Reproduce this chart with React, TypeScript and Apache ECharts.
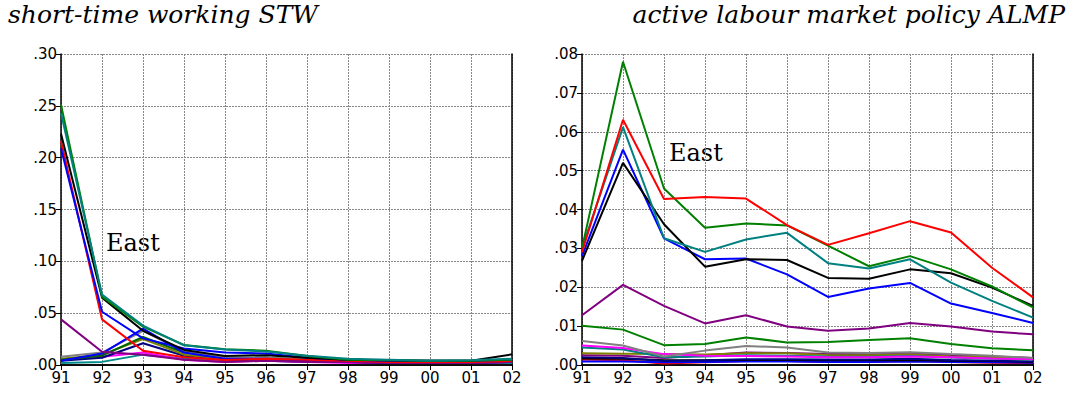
import React, { useEffect, useRef } from "react";
import * as echarts from "echarts";

const years = ["91", "92", "93", "94", "95", "96", "97", "98", "99", "00", "01", "02"];

// Left panel: short-time working (STW), East
const stwDarkTeal = [0.002, 0.003, 0.010, 0.006, 0.004, 0.004, 0.003, 0.003, 0.002, 0.002, 0.002, 0.002];
const stwMagenta = [0.005, 0.008, 0.012, 0.005, 0.003, 0.004, 0.003, 0.002, 0.002, 0.002, 0.002, 0.003];
const stwNavy = [0.004, 0.007, 0.021, 0.009, 0.005, 0.005, 0.004, 0.003, 0.002, 0.002, 0.002, 0.003];
const stwOlive = [0.006, 0.010, 0.025, 0.010, 0.006, 0.006, 0.004, 0.003, 0.003, 0.003, 0.003, 0.003];
const stwDarkGreen = [0.005, 0.009, 0.027, 0.012, 0.007, 0.007, 0.005, 0.003, 0.003, 0.003, 0.003, 0.004];
const stwGray = [0.008, 0.012, 0.033, 0.013, 0.007, 0.007, 0.005, 0.004, 0.003, 0.003, 0.003, 0.004];
const stwBlue2 = [0.004, 0.011, 0.035, 0.012, 0.006, 0.006, 0.004, 0.003, 0.003, 0.003, 0.003, 0.003];
const stwPurple = [0.044, 0.0128, 0.010, 0.005, 0.003, 0.004, 0.003, 0.003, 0.002, 0.002, 0.002, 0.003];
const stwRed = [0.216, 0.044, 0.0138, 0.0074, 0.0048, 0.006, 0.005, 0.004, 0.003, 0.003, 0.003, 0.004];
const stwBlue = [0.209, 0.0514, 0.0257, 0.016, 0.012, 0.011, 0.007, 0.005, 0.004, 0.004, 0.004, 0.005];
const stwBlack = [0.223, 0.065, 0.033, 0.0145, 0.0087, 0.0095, 0.007, 0.005, 0.0045, 0.004, 0.004, 0.0103];
const stwGreen = [0.251, 0.066, 0.037, 0.0193, 0.0151, 0.0138, 0.0087, 0.005, 0.0045, 0.004, 0.004, 0.005];
const stwTeal = [0.243, 0.068, 0.038, 0.019, 0.015, 0.013, 0.009, 0.006, 0.005, 0.004, 0.0045, 0.006];

// Right panel: active labour market policy (ALMP), East
const almpRed2 = [0.0014, 0.0012, 0.0004, 0.0007, 0.0010, 0.0010, 0.0008, 0.0008, 0.0010, 0.0008, 0.0006, 0.0005];
const almpBlue2 = [0.0009, 0.0009, 0.0007, 0.0008, 0.0009, 0.0009, 0.0008, 0.0008, 0.0009, 0.0008, 0.0007, 0.0006];
const almpBlack2 = [0.0017, 0.0016, 0.0012, 0.0012, 0.0013, 0.0013, 0.0012, 0.0012, 0.0013, 0.0011, 0.0010, 0.0008];
const almpNavy = [0.0020, 0.0018, 0.0010, 0.0012, 0.0015, 0.0015, 0.0014, 0.0014, 0.0016, 0.0013, 0.0011, 0.0009];
const almpDarkPurple = [0.0025, 0.0024, 0.0018, 0.0025, 0.0032, 0.0031, 0.0028, 0.0028, 0.0030, 0.0026, 0.0022, 0.0018];
const almpOlive = [0.0030, 0.0029, 0.0028, 0.0027, 0.0030, 0.0030, 0.0026, 0.0025, 0.0027, 0.0022, 0.0020, 0.0016];
const almpTeal2 = [0.0045, 0.0040, 0.0020, 0.0022, 0.0025, 0.0024, 0.0022, 0.0021, 0.0023, 0.0019, 0.0016, 0.0014];
const almpMagenta = [0.0050, 0.0044, 0.0028, 0.0024, 0.0023, 0.0022, 0.0020, 0.0020, 0.0022, 0.0020, 0.0017, 0.0015];
const almpGray = [0.0062, 0.0050, 0.0022, 0.0037, 0.0049, 0.0045, 0.0032, 0.0031, 0.0033, 0.0028, 0.0024, 0.0018];
const almpGreen2 = [0.0101, 0.0091, 0.0051, 0.0054, 0.0071, 0.0058, 0.0059, 0.0064, 0.0069, 0.0054, 0.0043, 0.0038];
const almpPurple = [0.0128, 0.0206, 0.0152, 0.0107, 0.0128, 0.0099, 0.0088, 0.0094, 0.0108, 0.0099, 0.0086, 0.0079];
const almpBlue = [0.028, 0.0554, 0.0326, 0.0272, 0.0274, 0.0233, 0.0175, 0.0197, 0.0211, 0.0158, 0.0134, 0.0108];
const almpBlack = [0.0268, 0.052, 0.0362, 0.0253, 0.0272, 0.027, 0.0224, 0.0222, 0.0246, 0.0236, 0.0199, 0.0152];
const almpTeal = [0.030, 0.0612, 0.0326, 0.0291, 0.0323, 0.034, 0.0262, 0.0248, 0.0272, 0.0212, 0.0165, 0.0122];
const almpGreen = [0.030, 0.078, 0.0454, 0.0353, 0.0364, 0.0359, 0.0307, 0.0254, 0.028, 0.0246, 0.0202, 0.0148];
const almpRed = [0.029, 0.0631, 0.0427, 0.0432, 0.0428, 0.036, 0.0309, 0.0339, 0.037, 0.0341, 0.025, 0.0174];

const leftSeries: [string, string, number[]][] = [
  ["dark teal", "#008b8b", stwDarkTeal],
  ["magenta", "#ff00ff", stwMagenta],
  ["navy", "#000080", stwNavy],
  ["olive", "#808000", stwOlive],
  ["dark green", "#006400", stwDarkGreen],
  ["gray", "#808080", stwGray],
  ["blue 2", "#0000ff", stwBlue2],
  ["purple", "#800080", stwPurple],
  ["red", "#ff0000", stwRed],
  ["blue", "#0000ff", stwBlue],
  ["black", "#000000", stwBlack],
  ["green", "#008000", stwGreen],
  ["teal", "#008080", stwTeal],
];

const rightSeries: [string, string, number[]][] = [
  ["red 2", "#ff0000", almpRed2],
  ["blue 2", "#0000ff", almpBlue2],
  ["black 2", "#000000", almpBlack2],
  ["navy", "#000080", almpNavy],
  ["dark purple", "#800080", almpDarkPurple],
  ["olive", "#808000", almpOlive],
  ["teal 2", "#008080", almpTeal2],
  ["magenta", "#ff00ff", almpMagenta],
  ["gray", "#808080", almpGray],
  ["green 2", "#008000", almpGreen2],
  ["purple", "#800080", almpPurple],
  ["blue", "#0000ff", almpBlue],
  ["black", "#000000", almpBlack],
  ["teal", "#008080", almpTeal],
  ["green", "#008000", almpGreen],
  ["red", "#ff0000", almpRed],
];

const fmt = (v: number) => v.toFixed(2).replace(/^0/, "");

export default function App() {
  const ref = useRef<HTMLDivElement>(null);
  useEffect(() => {
    document.body.style.margin = "0";
    const chart = echarts.init(ref.current!, null, { renderer: "svg" });
    const grids = [
      { left: 61, top: 54, width: 451, height: 311 },
      { left: 582, top: 54, width: 451, height: 311 },
    ];
    const axisLabelStyle = { color: "#000", fontFamily: "DejaVu Sans, sans-serif", fontSize: 15 };
    const xAxes: any[] = [];
    const yAxes: any[] = [];
    [0, 1].forEach((g) => {
      xAxes.push({
        type: "category",
        gridIndex: g,
        data: years,
        boundaryGap: false,
        axisLine: { lineStyle: { color: "#000", width: 1.5 } },
        axisTick: { show: true, length: 5, lineStyle: { color: "#000" } },
        axisLabel: { ...axisLabelStyle, margin: 5 },
        splitLine: { show: true, lineStyle: { color: "#888", type: [2, 1], width: 1 } },
      });
      xAxes.push({
        type: "category",
        gridIndex: g,
        position: "top",
        data: years,
        boundaryGap: false,
        axisLine: { lineStyle: { color: "#000", width: 1.5 } },
        axisTick: { show: true, inside: true, length: 5, lineStyle: { color: "#000" } },
        axisLabel: { show: false },
        splitLine: { show: false },
      });
      const max = g === 0 ? 0.3 : 0.08;
      const interval = g === 0 ? 0.05 : 0.01;
      yAxes.push({
        type: "value",
        gridIndex: g,
        min: 0,
        max,
        interval,
        axisLine: { show: true, lineStyle: { color: "#000", width: 1.5 } },
        axisTick: { show: true, length: 5, lineStyle: { color: "#000" } },
        axisLabel: { ...axisLabelStyle, margin: 4, formatter: fmt },
        splitLine: { show: true, lineStyle: { color: "#888", type: [2, 1], width: 1 } },
      });
      yAxes.push({
        type: "value",
        gridIndex: g,
        position: "right",
        min: 0,
        max,
        interval,
        axisLine: { show: true, lineStyle: { color: "#000", width: 1.5 } },
        axisTick: { show: false },
        axisLabel: { show: false },
        splitLine: { show: false },
      });
    });

    const mk = (list: [string, string, number[]][], g: number) =>
      list.map(([name, color, data]) => ({
        type: "line",
        name,
        xAxisIndex: g * 2,
        yAxisIndex: g * 2,
        data,
        symbol: "none",
        lineStyle: { color, width: 2 },
        itemStyle: { color },
      }));

    chart.setOption({
      animation: false,
      grid: grids,
      xAxis: xAxes,
      yAxis: yAxes,
      series: [...mk(leftSeries, 0), ...mk(rightSeries, 1)],
      graphic: [
        {
          type: "text",
          left: 8,
          top: 2,
          style: { text: "short-time working STW", fontFamily: "DejaVu Serif", fontStyle: "italic", fontSize: 25, fill: "#000" },
        },
        {
          type: "text",
          right: 5,
          top: 2,
          style: { text: "active labour market policy ALMP", fontFamily: "DejaVu Serif", fontStyle: "italic", fontSize: 25, fill: "#000" },
        },
        {
          type: "text",
          left: 106,
          top: 231,
          style: { text: "East", fontFamily: "DejaVu Serif", fontSize: 24, fill: "#000" },
        },
        {
          type: "text",
          left: 669,
          top: 141,
          style: { text: "East", fontFamily: "DejaVu Serif", fontSize: 24, fill: "#000" },
        },
      ],
    });
    return () => chart.dispose();
  }, []);
  return <div ref={ref} style={{ width: 1070, height: 395 }} />;
}
